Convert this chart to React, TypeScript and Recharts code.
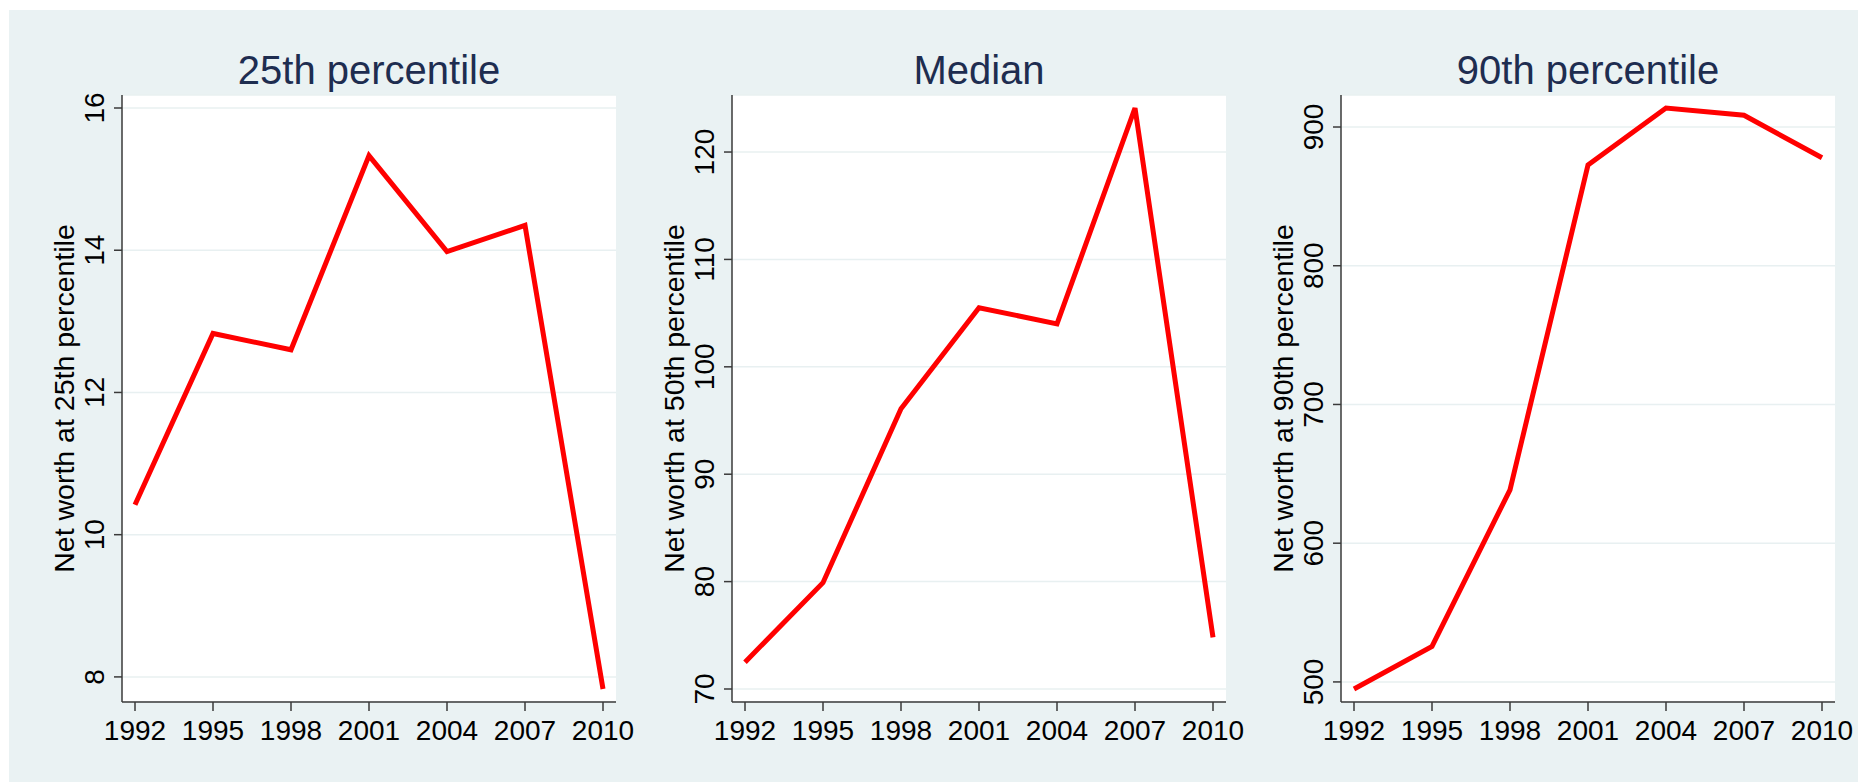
import { CartesianGrid, Line, LineChart, XAxis, YAxis } from 'recharts'

const years = [1992, 1995, 1998, 2001, 2004, 2007, 2010]

const p25 = [10.42, 12.83, 12.6, 15.33, 13.98, 14.35, 7.83]
const p50 = [72.5, 79.9, 96.1, 105.5, 104.0, 124.1, 74.8]
const p90 = [494.9, 525.6, 638.5, 872.6, 913.7, 908.5, 877.8]

const p25Ticks = [8, 10, 12, 14, 16]
const p50Ticks = [70, 80, 90, 100, 110, 120]
const p90Ticks = [500, 600, 700, 800, 900]

const titles = ['25th percentile', 'Median', '90th percentile']
const axisTitles = [
  'Net worth at 25th percentile',
  'Net worth at 50th percentile',
  'Net worth at 90th percentile',
]

const FONT = '"Liberation Sans", Arial, Helvetica, sans-serif'
const W = 1858
const H = 782
const PLOT_TOP = 95
const PLOT_BOTTOM = 702
const X_AXIS_H = 40
const Y_AXIS_W = 40

interface PanelProps {
  title: string
  yTitle: string
  values: number[]
  ticks: number[]
  left: number
  right: number
}

function XTick(props: any) {
  const { x, y, payload } = props
  return (
    <text x={x} y={y} dy={27} textAnchor="middle" fontFamily={FONT} fontSize={28} fill="#000">
      {payload.value}
    </text>
  )
}

function YTick(props: any) {
  const { x, y, payload } = props
  return (
    <text
      transform={`translate(${x - 8}, ${y}) rotate(-90)`}
      textAnchor="middle"
      fontFamily={FONT}
      fontSize={28}
      fill="#000"
    >
      {payload.value}
    </text>
  )
}

function Panel({ title, yTitle, values, ticks, left, right }: PanelProps) {
  const rows = years.map((year, i) => ({ year, value: values[i] }))
  const lo = Math.min(...values, ...ticks)
  const hi = Math.max(...values, ...ticks)

  return (
    <>
      <div
        style={{
          position: 'absolute',
          left,
          width: right - left,
          top: 50,
          textAlign: 'center',
          fontFamily: FONT,
          fontSize: 40,
          lineHeight: '40px',
          color: '#1e2d50',
          whiteSpace: 'nowrap',
        }}
      >
        {title}
      </div>
      <div style={{ position: 'absolute', left: 0, top: 0 }}>
        <LineChart
          width={W}
          height={H}
          data={rows}
          margin={{
            top: PLOT_TOP,
            bottom: H - PLOT_BOTTOM - X_AXIS_H,
            left: left - Y_AXIS_W,
            right: W - right,
          }}
        >
          <CartesianGrid vertical={false} stroke="#e8f0f1" strokeWidth={1.5} fill="#ffffff" />
          <XAxis
            dataKey="year"
            type="number"
            domain={[1992, 2010]}
            ticks={years}
            padding={{ left: 13, right: 13 }}
            height={X_AXIS_H}
            tickSize={9}
            tick={<XTick />}
            axisLine={{ stroke: '#3a3a3a', strokeWidth: 1.5 }}
            tickLine={{ stroke: '#3a3a3a', strokeWidth: 1.5 }}
          />
          <YAxis
            type="number"
            domain={[lo, hi]}
            ticks={ticks}
            padding={{ top: 13, bottom: 13 }}
            width={Y_AXIS_W}
            tickSize={8}
            tick={<YTick />}
            axisLine={{ stroke: '#3a3a3a', strokeWidth: 1.5 }}
            tickLine={{ stroke: '#3a3a3a', strokeWidth: 1.5 }}
            label={{
              content: (p: any) => {
                const vb = p.viewBox
                const cy = vb.y + vb.height / 2
                const bx = vb.x + vb.width - 48.5
                return (
                  <text
                    transform={`translate(${bx}, ${cy}) rotate(-90)`}
                    textAnchor="middle"
                    fontFamily={FONT}
                    fontSize={28.5}
                    fill="#000"
                  >
                    {yTitle}
                  </text>
                )
              },
            }}
          />
          <Line
            type="linear"
            dataKey="value"
            stroke="#ff0000"
            strokeWidth={5}
            dot={false}
            activeDot={false}
            isAnimationActive={false}
          />
        </LineChart>
      </div>
    </>
  )
}

export default function App() {
  return (
    <div style={{ position: 'fixed', left: 0, top: 0, width: W, height: H, background: '#ffffff', overflow: 'hidden' }}>
      <div style={{ position: 'absolute', left: 9, top: 10, right: 0, bottom: 0, background: '#eaf2f3' }} />
      <Panel title={titles[0]} yTitle={axisTitles[0]} values={p25} ticks={p25Ticks} left={122} right={616} />
      <Panel title={titles[1]} yTitle={axisTitles[1]} values={p50} ticks={p50Ticks} left={732} right={1226} />
      <Panel title={titles[2]} yTitle={axisTitles[2]} values={p90} ticks={p90Ticks} left={1341} right={1835} />
    </div>
  )
}
